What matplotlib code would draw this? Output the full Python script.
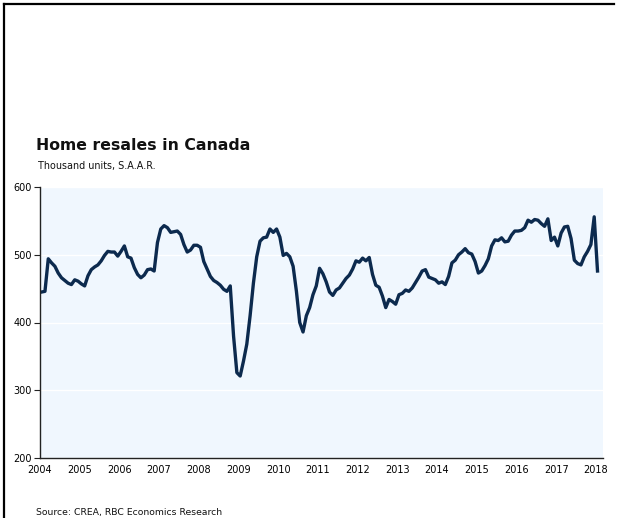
import matplotlib
matplotlib.use("Agg")
import matplotlib.pyplot as plt
from matplotlib.lines import Line2D
import numpy as np

# Monthly home resales, thousand units SAAR, Jan 2004 - Jan 2018
resales_2004 = [445, 446, 494, 488, 483, 473, 466, 462, 458, 456, 463, 461]
resales_2005 = [457, 454, 469, 478, 482, 485, 491, 499, 505, 504, 504, 498]
resales_2006 = [505, 513, 497, 495, 481, 471, 466, 470, 478, 479, 476, 518]
resales_2007 = [538, 543, 540, 533, 534, 535, 530, 515, 504, 507, 514, 514]
resales_2008 = [511, 490, 479, 468, 462, 459, 455, 449, 446, 454, 380, 326]
resales_2009 = [321, 343, 368, 410, 458, 497, 520, 525, 526, 538, 533, 538]
resales_2010 = [526, 499, 502, 497, 483, 446, 400, 386, 410, 422, 441, 454]
resales_2011 = [480, 472, 460, 445, 440, 448, 451, 458, 465, 470, 479, 491]
resales_2012 = [489, 495, 491, 496, 471, 455, 452, 439, 422, 434, 431, 427]
resales_2013 = [441, 443, 448, 446, 451, 459, 467, 476, 478, 467, 465, 463]
resales_2014 = [458, 460, 456, 468, 488, 492, 500, 504, 509, 503, 501, 490]
resales_2015 = [473, 476, 484, 494, 513, 522, 521, 525, 519, 520, 529, 535]
resales_2016 = [535, 536, 540, 551, 548, 552, 551, 546, 542, 553, 521, 526]
resales_2017 = [513, 532, 541, 542, 524, 492, 487, 485, 497, 505, 515, 556]
resales_2018 = [476]

start_year = 2004
year_ticks = list(range(2004, 2019))
y_ticks = [200, 300, 400, 500, 600]

title = "Home resales in Canada"
subtitle = "Thousand units, S.A.A.R."
source = "Source: CREA, RBC Economics Research"

values = (resales_2004 + resales_2005 + resales_2006 + resales_2007 + resales_2008
          + resales_2009 + resales_2010 + resales_2011 + resales_2012 + resales_2013
          + resales_2014 + resales_2015 + resales_2016 + resales_2017 + resales_2018)
x = start_year + (np.arange(len(values)) + 0.5) / 12.0

W, H = 619, 518
fig = plt.figure(figsize=(W / 100, H / 100), dpi=100)
fig.patch.set_facecolor("white")

ax = fig.add_axes([40 / W, (H - 458) / H, (603 - 40) / W, (458 - 187) / H])
ax.set_facecolor("#F0F7FE")
ax.plot(x, values, color="#0C2A4E", linewidth=2.4, solid_joinstyle="round")

ax.set_xlim(2004, 2018.18)
ax.set_ylim(200, 600)
ax.set_yticks(y_ticks)
ax.set_xticks(year_ticks)
ax.set_xticklabels([str(t) for t in year_ticks])
ax.yaxis.grid(True, color="white", linewidth=1.0)
ax.set_axisbelow(True)
for s in ["top", "right"]:
    ax.spines[s].set_visible(False)
for s in ["left", "bottom"]:
    ax.spines[s].set_color("#222222")
    ax.spines[s].set_linewidth(1.0)
ax.tick_params(axis="y", length=4, width=0.8, color="#222222", labelsize=7, pad=2)
ax.tick_params(axis="x", length=0, labelsize=7, pad=5)

fig.text(36 / W, 1 - 145 / H, title, fontsize=11.3, fontweight="bold", va="center", ha="left", color="#111111")
fig.text(38 / W, 1 - 166 / H, subtitle, fontsize=6.9, va="center", ha="left", color="#111111")
fig.text(36 / W, 1 - 512 / H, source, fontsize=6.7, va="center", ha="left", color="#111111")

# frame lines (left and top)
fig.add_artist(Line2D([3.5 / W, 3.5 / W], [0, 1 - 4 / H], transform=fig.transFigure, color="black", linewidth=1.6))
fig.add_artist(Line2D([3.5 / W, 614 / W], [1 - 4 / H, 1 - 4 / H], transform=fig.transFigure, color="black", linewidth=1.6))

fig.savefig("out.png", dpi=100)
